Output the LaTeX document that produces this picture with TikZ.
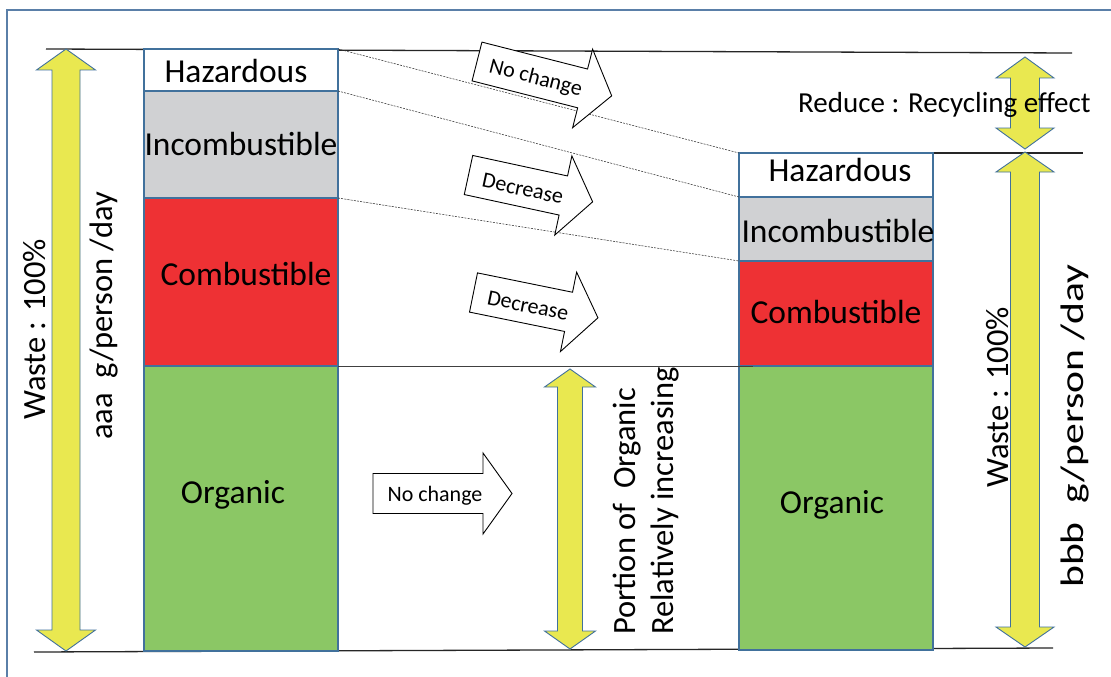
\documentclass[tikz,border=0pt]{standalone}
\usepackage{fontspec}
\setmainfont{Carlito}
\usetikzlibrary{calc}

\definecolor{edgeblue}{HTML}{41719C}
\definecolor{framec}{HTML}{5A7FA8}
\definecolor{incc}{HTML}{D0D1D3}
\definecolor{comc}{HTML}{EE3134}
\definecolor{orgc}{HTML}{8BC765}
\definecolor{yel}{HTML}{E9E850}

\tikzset{
  layer/.style={draw=edgeblue, line width=1.3pt, minimum width=194pt,
    anchor=north west, inner sep=0pt, outer sep=0pt},
  bigtext/.style={font=\fontsize{33.5}{40}\selectfont, inner sep=0pt, anchor=base},
  arrowtext/.style={font=\fontsize{22}{26}\selectfont, inner sep=0pt},
  blockline/.style={draw=black, line width=0.9pt, fill=white, line join=miter},
  yarrow/.style={draw=edgeblue, line width=0.9pt, fill=yel},
  level/.style={draw=black!85, line width=1.3pt},
  guide/.style={draw=black!80, line width=0.55pt, dash pattern=on 2pt off 1.2pt},
  sidetext/.style={font=\fontsize{32.5}{38}\selectfont, inner sep=0pt, rotate=90, anchor=base west},
}

% block arrow: name, x, y (middle of the tail), angle, shaft length, total length, text position, text
\newcommand\blockarrow[8]{%
  \begin{scope}[shift={(#2,#3)}, rotate=#4]
    \draw[blockline] (0,-20) -- (#5,-20) -- (#5,-40.5) -- (#6,0) -- (#5,40.5) -- (#5,20) -- (0,20) -- cycle;
    \node[arrowtext, transform shape] (#1) at (#7,2) {#8};
  \end{scope}}

% vertical double arrow: x, top, bottom, shaft half width, head half width, head length
\newcommand\dblarrow[6]{%
  \draw[yarrow] (#1,#2) -- (#1+#5,#2+#6) -- (#1+#4,#2+#6) -- (#1+#4,#3-#6)
    -- (#1+#5,#3-#6) -- (#1,#3) -- (#1-#5,#3-#6) -- (#1-#4,#3-#6)
    -- (#1-#4,#2+#6) -- (#1-#5,#2+#6) -- cycle;}

\begin{document}
\begin{tikzpicture}[x=1pt, y=-1pt]
  \useasboundingbox (0,0) rectangle (1111,677);
  \fill[white] (0,0) rectangle (1111,677);
  \draw[framec, line width=1.5pt] (7,10) rectangle (1130,700);

  % reference levels
  \coordinate (topL) at (46,49);
  \coordinate (topR) at (1072,53);
  \coordinate (midL) at (907,153);
  \coordinate (midR) at (1083,153);
  \coordinate (botL) at (34,652);
  \coordinate (botR) at (1053,648);
  \draw[level] (topL) -- (topR);
  \draw[level] (midL) -- (midR);
  \draw[level] (botL) -- (botR);

  % composition before
  \node[layer, fill=white, minimum height=42pt] (lhaz) at (144,49) {};
  \node[layer, fill=incc, minimum height=107pt] (linc) at (144,91) {};
  \node[layer, fill=comc, minimum height=168pt] (lcom) at (144,198) {};
  \node[layer, fill=orgc, minimum height=285pt] (lorg) at (144,366) {};

  % composition after
  \node[layer, fill=white, minimum height=44pt] (rhaz) at (739,153) {};
  \node[layer, fill=incc, minimum height=64pt] (rinc) at (739,197) {};
  \node[layer, fill=comc, minimum height=105pt] (rcom) at (739,261) {};
  \node[layer, fill=orgc, minimum height=284pt] (rorg) at (739,366) {};

  \node[bigtext] (tlhaz) at (236,82) {Hazardous};
  \node[bigtext] (tlinc) at (241,155) {Incombustible};
  \node[bigtext] (tlcom) at (246,285) {Combustible};
  \node[bigtext] (tlorg) at (233,503) {Organic};
  \node[bigtext] (trhaz) at (840,181) {Hazardous};
  \node[bigtext] (trinc) at (838,242) {Incombustible};
  \node[bigtext] (trcom) at (836,323) {Combustible};
  \node[bigtext] (trorg) at (832,513) {Organic};

  % guides between the layers
  \draw[guide] (lhaz.north east) -- (rhaz.north west);
  \draw[guide] (linc.north east) -- (rinc.north west);
  \draw[guide] (lcom.north east) -- (rcom.north west);
  \draw[black!75, line width=0.8pt] (lorg.north east) -- ([xshift=14pt]rorg.north west);

  % change arrows
  \blockarrow{anc}{477}{61.5}{-14.3}{109}{139}{61}{No change}
  \blockarrow{adeca}{468.5}{175}{-12.2}{97}{127}{56}{Decrease}
  \blockarrow{adecb}{473.5}{292.5}{-11.5}{97}{127}{56}{Decrease}
  \blockarrow{anco}{373}{493.5}{0}{110}{139}{62}{No change}

  % yellow extents
  \dblarrow{66}{49}{651}{14}{29.5}{21}
  \dblarrow{570}{369}{649}{12.5}{25.5}{18}
  \dblarrow{1025}{57}{149}{14.5}{29}{21}
  \dblarrow{1025}{152}{647}{14.5}{29}{20}

  % labels
  \node[font=\fontsize{29}{34}\selectfont, inner sep=0pt, anchor=base west] (reduce) at (798,112) {Reduce : Recycling effect};
  \node[sidetext] (wl) at (45,420) {Waste : 100\%};
  \node[sidetext] (gl) at (112,440) {aaa\ \ g/person /day};
  \node[sidetext] (wr) at (1008,488) {Waste : 100\%};
  \node[sidetext] (gr) at (1083,588) {\scalebox{1.28}[1]{bbb\ \ g/person /day}};
  \node[sidetext] (po) at (635,635) {Portion of\ \ Organic};
  \node[sidetext] (ri) at (673,635) {Relatively increasing};
\end{tikzpicture}
\end{document}
